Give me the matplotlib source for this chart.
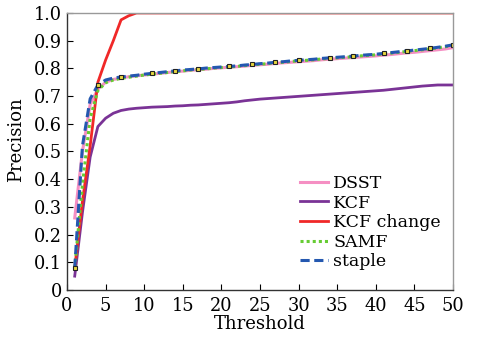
import matplotlib
matplotlib.use("Agg")
import matplotlib.pyplot as plt

thresholds = list(range(1, 51))

dsst = [0.26, 0.50, 0.67, 0.725, 0.750, 0.760, 0.765, 0.770, 0.773, 0.776,
        0.779, 0.782, 0.785, 0.788, 0.790, 0.793, 0.795, 0.797, 0.800, 0.802,
        0.804, 0.806, 0.808, 0.811, 0.813, 0.815, 0.818, 0.820, 0.822, 0.824,
        0.826, 0.828, 0.831, 0.833, 0.835, 0.837, 0.839, 0.841, 0.843, 0.845,
        0.848, 0.850, 0.853, 0.856, 0.858, 0.861, 0.864, 0.867, 0.870, 0.875]

kcf = [0.05, 0.28, 0.48, 0.59, 0.620, 0.638, 0.648, 0.653, 0.656, 0.658,
       0.660, 0.661, 0.662, 0.664, 0.665, 0.667, 0.668, 0.670, 0.672, 0.674,
       0.676, 0.679, 0.683, 0.686, 0.689, 0.691, 0.693, 0.695, 0.697, 0.699,
       0.701, 0.703, 0.705, 0.707, 0.709, 0.711, 0.713, 0.715, 0.717, 0.719,
       0.721, 0.724, 0.727, 0.730, 0.733, 0.736, 0.738, 0.740, 0.740, 0.740]

kcf_change = [0.08, 0.32, 0.52, 0.75, 0.83, 0.90, 0.975, 0.99, 1.0, 1.0,
              1.0, 1.0, 1.0, 1.0, 1.0, 1.0, 1.0, 1.0, 1.0, 1.0,
              1.0, 1.0, 1.0, 1.0, 1.0, 1.0, 1.0, 1.0, 1.0, 1.0,
              1.0, 1.0, 1.0, 1.0, 1.0, 1.0, 1.0, 1.0, 1.0, 1.0,
              1.0, 1.0, 1.0, 1.0, 1.0, 1.0, 1.0, 1.0, 1.0, 1.0]

samf = [0.08, 0.38, 0.62, 0.720, 0.748, 0.758, 0.764, 0.768, 0.772, 0.776,
        0.779, 0.782, 0.785, 0.788, 0.791, 0.794, 0.796, 0.798, 0.801, 0.803,
        0.805, 0.807, 0.810, 0.812, 0.815, 0.817, 0.820, 0.822, 0.825, 0.827,
        0.829, 0.831, 0.834, 0.836, 0.838, 0.840, 0.842, 0.845, 0.847, 0.849,
        0.852, 0.855, 0.858, 0.861, 0.864, 0.867, 0.870, 0.874, 0.878, 0.884]

staple = [0.08, 0.52, 0.69, 0.740, 0.758, 0.765, 0.769, 0.772, 0.775, 0.779,
          0.782, 0.785, 0.788, 0.791, 0.794, 0.796, 0.798, 0.801, 0.803, 0.805,
          0.807, 0.809, 0.812, 0.814, 0.817, 0.819, 0.822, 0.824, 0.827, 0.829,
          0.831, 0.833, 0.836, 0.838, 0.840, 0.842, 0.844, 0.847, 0.849, 0.851,
          0.854, 0.857, 0.860, 0.863, 0.866, 0.869, 0.872, 0.876, 0.880, 0.885]

marker_idx = [0, 3, 6, 10, 13, 16, 20, 23, 26, 29, 33, 36, 40, 43, 46, 49]

x_ticks = list(range(0, 51, 5))
y_ticks = [0, 0.1, 0.2, 0.3, 0.4, 0.5, 0.6, 0.7, 0.8, 0.9, 1.0]
y_tick_labels = ["0", "0.1", "0.2", "0.3", "0.4", "0.5", "0.6", "0.7", "0.8", "0.9", "1.0"]

plt.rcParams['font.family'] = ['DejaVu Serif']
plt.rcParams['mathtext.fontset'] = 'dejavuserif'

fig = plt.figure(figsize=(4.82, 3.41), dpi=100)
ax = fig.add_axes([0.139, 0.1496, 0.801, 0.8124])

ax.plot(thresholds, dsst, color='#F58FC3', lw=2.2, label='DSST')
ax.plot(thresholds, kcf, color='#7A3396', lw=2.0, label='KCF')
ax.plot(thresholds, kcf_change, color='#F02828', lw=2.0, label='KCF change')
ax.plot(thresholds, samf, color='#66CC33', lw=2.2, ls=(0, (1, 1)), label='SAMF')
ax.plot(thresholds, staple, color='#2458B0', lw=2.2, ls=(0, (3, 1.5)), label='staple')
ax.plot(thresholds, staple, ls='none', marker='s', ms=3.0, mfc='#E8D840',
        mec='#222222', mew=0.8, markevery=marker_idx)

ax.set_xlim(0, 50)
ax.set_ylim(0, 1.0)
ax.set_xticks(x_ticks)
ax.set_yticks(y_ticks)
ax.set_yticklabels(y_tick_labels)
ax.tick_params(direction='in', length=4, labelsize=12.8, colors='black')
ax.tick_params(axis='x', pad=5)
ax.set_xlabel('Threshold', fontsize=13, labelpad=0)
ax.set_ylabel('Precision', fontsize=13)
ax.yaxis.set_label_coords(-0.108, 0.543)

for s in ['left', 'bottom']:
    ax.spines[s].set_color('#333333')
    ax.spines[s].set_linewidth(1.0)
for s in ['top', 'right']:
    ax.spines[s].set_color('#999999')
    ax.spines[s].set_linewidth(1.0)

handles, labels = ax.get_legend_handles_labels()
ax.legend(handles[:5], labels[:5], loc='lower right', frameon=False,
          fontsize=12.5, handlelength=1.6, handletextpad=0.3, labelspacing=0.15,
          borderaxespad=0.3, bbox_to_anchor=(1.0, 0.027))

fig.savefig('out.png', dpi=100)
